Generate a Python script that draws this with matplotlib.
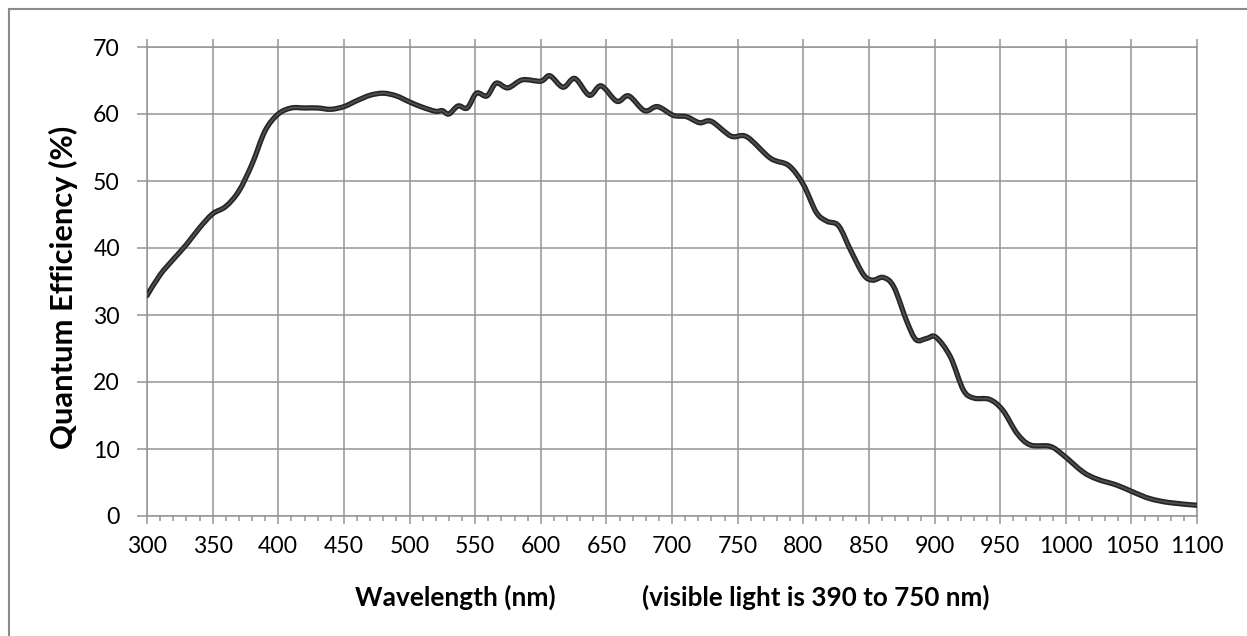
import numpy as np
import matplotlib
matplotlib.use("Agg")
import matplotlib.pyplot as plt
from matplotlib.path import Path
from matplotlib.patches import PathPatch
from matplotlib.lines import Line2D
from matplotlib.ticker import MultipleLocator
import matplotlib.patheffects as pe

# -------- data --------
wavelength_nm = [300, 310, 320, 330, 340, 350, 360, 370, 380, 390,
                 400, 410, 420, 430, 440, 450, 460, 470, 480, 490,
                 500, 510, 520, 525, 530, 537, 544, 551, 559, 566,
                 575, 586, 600, 607, 617, 626, 637, 646, 658, 667,
                 679, 689, 701, 711, 721, 730, 745, 757, 775, 789,
                 800, 810, 818, 827, 836, 846, 853, 861, 869, 879,
                 886, 894, 901, 912, 922, 930, 942, 952, 963, 973,
                 988, 998, 1013, 1024, 1039, 1051, 1064, 1079, 1100]
qe_percent = [32.9, 36.0, 38.3, 40.5, 43.0, 45.1, 46.2, 48.5, 52.5, 57.5,
              60.0, 60.9, 60.9, 60.9, 60.7, 61.1, 62.0, 62.8, 63.1, 62.7,
              61.8, 61.0, 60.4, 60.5, 60.0, 61.2, 60.9, 63.1, 62.7, 64.6,
              63.9, 65.1, 64.9, 65.7, 64.0, 65.3, 62.8, 64.2, 61.9, 62.7,
              60.5, 61.1, 59.8, 59.6, 58.7, 58.9, 56.7, 56.6, 53.4, 52.3,
              49.5, 45.3, 44.0, 43.3, 39.7, 36.0, 35.2, 35.6, 34.2, 29.0,
              26.3, 26.5, 26.7, 23.8, 18.8, 17.6, 17.4, 15.8, 12.3, 10.6,
              10.4, 9.1, 6.6, 5.5, 4.6, 3.6, 2.6, 2.0, 1.6]

x_ticks = list(range(300, 1101, 50))
y_ticks = list(range(0, 71, 10))


# -------- helpers --------
def smooth_path(xs, ys):
    """Catmull-Rom through the points, as cubic Bezier segments (Excel-like smoothing)."""
    pts = np.column_stack([xs, ys]).astype(float)
    n = len(pts)
    verts = [pts[0]]
    codes = [Path.MOVETO]
    for i in range(n - 1):
        p0 = pts[i - 1] if i > 0 else pts[i]
        p1 = pts[i]
        p2 = pts[i + 1]
        p3 = pts[i + 2] if i + 2 < n else pts[i + 1]
        c1 = p1 + (p2 - p0) / 6.0
        c2 = p2 - (p3 - p1) / 6.0
        verts += [c1, c2, p2]
        codes += [Path.CURVE4] * 3
    return Path(verts, codes)


def fit_size(fig, text, target_px, weight="normal", base=20.0):
    """Font size (pt) so that `text` is target_px long - stand-in for Calibri metrics."""
    r = fig.canvas.get_renderer()
    t = fig.text(0, 0, text, fontsize=base, fontweight=weight)
    w = t.get_window_extent(r).width
    t.remove()
    return base * target_px / w


GRID = "#959595"
TEXT = "#000000"
plt.rcParams["font.family"] = ["Lato", "DejaVu Sans"]

W, H = 1247, 636
fig = plt.figure(figsize=(W / 100, H / 100), dpi=100)

TICK_FS = fit_size(fig, "300", 40)
YLAB_FS = fit_size(fig, "Quantum Efficiency (%)", 323, "bold")
XLAB_FS = fit_size(fig, "Wavelength (nm)", 200, "bold")
NOTE_FS = fit_size(fig, "(visible light is 390 to 750 nm)", 346, "bold")

# outer frame (chart area border)
fig.add_artist(Line2D([9 / W, 1.0], [1 - 9 / H, 1 - 9 / H], color="#8a8a8a", lw=1.5,
                      transform=fig.transFigure))
fig.add_artist(Line2D([9 / W, 9 / W], [0.0, 1 - 9 / H], color="#8a8a8a", lw=1.5,
                      transform=fig.transFigure))

ax = fig.add_axes([147 / W, 1 - 516 / H, (1197 - 147) / W, (516 - 47) / H])
ax.set_xlim(300, 1100)
ax.set_ylim(0, 70)

ax.set_xticks(x_ticks)
ax.set_yticks(y_ticks)
ax.xaxis.set_minor_locator(MultipleLocator(10))

ax.grid(True, which="major", color=GRID, lw=1.1)
ax.set_axisbelow(True)
for s in ax.spines.values():
    s.set_color(GRID)
    s.set_linewidth(1.1)

ax.tick_params(axis="x", which="major", direction="out", length=6, width=1.1,
               color=GRID, top=True, labeltop=False, pad=8.5,
               labelsize=TICK_FS, labelcolor=TEXT)
ax.tick_params(axis="x", which="minor", direction="out", length=3.5, width=1.1,
               color=GRID, top=False)
ax.tick_params(axis="y", which="major", direction="out", length=7, width=1.1,
               color=GRID, pad=12.5, labelsize=TICK_FS, labelcolor=TEXT)

# the curve: dark rim with lighter core
patch = PathPatch(smooth_path(wavelength_nm, qe_percent), fill=False,
                  ec="#505050", lw=1.3, zorder=3, capstyle="round",
                  path_effects=[pe.Stroke(linewidth=3.8, foreground="#262626"), pe.Normal()])
ax.add_patch(patch)

fig.text(63 / W, 1 - 287 / H, "Quantum Efficiency (%)", fontsize=YLAB_FS,
         fontweight="bold", rotation=90, ha="center", va="center")
fig.text(455 / W, 1 - 597 / H, "Wavelength (nm)", fontsize=XLAB_FS, fontweight="bold",
         ha="center", va="center")
fig.text(816 / W, 1 - 597 / H, "(visible light is 390 to 750 nm)", fontsize=NOTE_FS,
         fontweight="bold", ha="center", va="center")

fig.savefig("out.png", dpi=100)
